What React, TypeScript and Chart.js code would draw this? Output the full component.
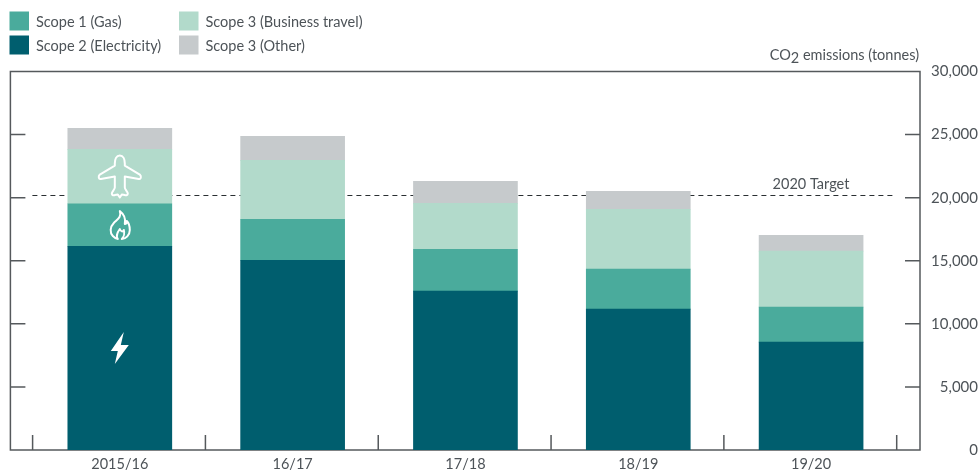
import React, { useEffect, useRef } from "react";
import { Chart, registerables } from "chart.js";

Chart.register(...registerables);

const categories = ["2015/16", "16/17", "17/18", "18/19", "19/20"];
const electricity = [16150, 15040, 12590, 11160, 8550];
const gas = [3370, 3250, 3320, 3170, 2770];
const businessTravel = [4310, 4670, 3650, 4750, 4440];
const other = [1670, 1900, 1740, 1420, 1260];
const targetValue = 20150;
const yTicks = [0, 5000, 10000, 15000, 20000, 25000, 30000];

const FONT = "Lato";
const TEXT = "#4d5358";
const FRAME = "#55595c";

const COLORS = {
  gas: "#4aab9c",
  electricity: "#005e6e",
  travel: "#b2dacb",
  other: "#c6cacc",
};

const legendColumns = [
  [
    { label: "Scope 1 (Gas)", color: COLORS.gas },
    { label: "Scope 2 (Electricity)", color: COLORS.electricity },
  ],
  [
    { label: "Scope 3 (Business travel)", color: COLORS.travel },
    { label: "Scope 3 (Other)", color: COLORS.other },
  ],
];

// Outline glyphs, centred on the origin, placed in the middle of a stack segment.
const PLANE =
  "M0 -21 C-3.5 -21 -5 -17 -5 -13 L-5 -11 L-20 -2 C-22 0 -21 3 -19 2.5 L-5 0 L-5 11 C-5 13 -8 15 -8 17 C-8 19 -6 19 -5 18.5 L-2 18 L0 21 L2 18 L5 18.5 C6 19 8 19 8 17 C8 15 5 13 5 11 L5 0 L19 2.5 C21 3 22 0 20 -2 L5 -11 L5 -13 C5 -17 3.5 -21 0 -21 Z";
const FLAME =
  "M0 -14 C2 -8 -2 -6 -6 -2 C-10 2 -10 8 -7 11 C-5 13 -3 14 -2 14 C-4 11 -3 8 0 4 C1 7 3 7 4 5 C5 8 4 12 2 14 C6 14 10 10 10 5 C10 1 9 -2 7 -4 C7 -2 6 -1 5 -1 C6 -6 4 -11 0 -14 Z";
const BOLT = "M4 -16 L-9 3 L-2 3 L-5 16 L9 -3 L1 -3 Z";

const framePlugin = {
  id: "frame",
  beforeDatasetsDraw(chart: any) {
    const { ctx, scales } = chart;
    const { x, y } = scales;
    const frameLeft = x.left - 23;
    const frameRight = x.right + 22.5;
    const bottom = y.bottom;
    const top = y.top;
    const band = (x.right - x.left) / categories.length;

    ctx.save();
    ctx.strokeStyle = FRAME;
    ctx.lineWidth = 1.5;
    ctx.strokeRect(frameLeft, top, frameRight - frameLeft, bottom - top);

    // Inward tick marks on both sides and between the categories
    ctx.beginPath();
    yTicks.slice(1, -1).forEach((v) => {
      const py = y.getPixelForValue(v);
      ctx.moveTo(frameLeft, py);
      ctx.lineTo(frameLeft + 15, py);
      ctx.moveTo(frameRight - 15, py);
      ctx.lineTo(frameRight, py);
    });
    for (let i = 0; i <= categories.length; i++) {
      const px = x.left + i * band - 0.8;
      ctx.moveTo(px, bottom);
      ctx.lineTo(px, bottom - 15);
    }
    ctx.stroke();

    // Target line, running behind the columns and snapped to the pixel grid
    const ty = Math.floor(y.getPixelForValue(targetValue)) + 0.5;
    ctx.strokeStyle = "#2a2f32";
    ctx.lineWidth = 1;
    ctx.setLineDash([5, 4]);
    ctx.beginPath();
    ctx.moveTo(x.left - 1, ty);
    ctx.lineTo(x.right - 2, ty);
    ctx.stroke();
    ctx.setLineDash([]);
    ctx.restore();
  },
  afterDatasetsDraw(chart: any) {
    const { ctx, scales } = chart;
    const { x, y } = scales;

    ctx.save();
    ctx.fillStyle = TEXT;
    ctx.textBaseline = "middle";
    ctx.font = `14.5px ${FONT}`;

    ctx.textAlign = "center";
    ctx.fillText("2020 Target", 811, y.getPixelForValue(targetValue) - 11);

    // Unit caption above the right axis, with a lowered 2 in CO2
    const tail = " emissions (tonnes)";
    const tailW = ctx.measureText(tail).width;
    ctx.textAlign = "right";
    ctx.fillText(tail, 919, 55);
    const subW = ctx.measureText("2").width;
    ctx.fillText("2", 919 - tailW, 58);
    ctx.fillText("CO", 919 - tailW - subW, 55);

    // Legend, two columns of two rows
    const colX = [9.5, 179];
    const rowY = [11.5, 35.5];
    legendColumns.forEach((col, c) =>
      col.forEach((item, r) => {
        ctx.fillStyle = item.color;
        ctx.fillRect(colX[c], rowY[r], 19.5, 19);
        ctx.fillStyle = TEXT;
        ctx.textAlign = "left";
        ctx.fillText(item.label, colX[c] + 26.5, rowY[r] + 11);
      }),
    );

    // Source glyphs in the first column's segments
    const cx = x.getPixelForValue(0);
    let base = 0;
    const stacks = [electricity[0], gas[0], businessTravel[0]];
    const glyphs = [BOLT, FLAME, PLANE];
    stacks.forEach((seg, i) => {
      const cy = y.getPixelForValue(base + seg / 2);
      base += seg;
      ctx.save();
      ctx.translate(cx, cy);
      const p = new Path2D(glyphs[i]);
      if (i === 0) {
        ctx.fillStyle = "#ffffff";
        ctx.fill(p);
      } else {
        ctx.strokeStyle = "#ffffff";
        ctx.lineWidth = 2;
        ctx.lineJoin = "round";
        ctx.stroke(p);
      }
      ctx.restore();
    });
    ctx.restore();
  },
};

export default function App() {
  const ref = useRef<HTMLCanvasElement>(null);

  useEffect(() => {
    if (!ref.current) return;
    const chart = new Chart(ref.current, {
      type: "bar",
      data: {
        labels: categories,
        datasets: [
          { label: "Scope 2 (Electricity)", data: electricity, backgroundColor: COLORS.electricity },
          { label: "Scope 1 (Gas)", data: gas, backgroundColor: COLORS.gas },
          { label: "Scope 3 (Business travel)", data: businessTravel, backgroundColor: COLORS.travel },
          { label: "Scope 3 (Other)", data: other, backgroundColor: COLORS.other },
        ],
      },
      options: {
        responsive: false,
        animation: false,
        layout: { padding: { left: 33.4, top: 71.5, right: 2, bottom: 0 } },
        plugins: { legend: { display: false }, tooltip: { enabled: false } },
        scales: {
          x: {
            stacked: true,
            grid: { display: false, drawTicks: false },
            border: { display: false },
            ticks: {
              color: TEXT,
              font: { family: FONT, size: 14.5 },
              padding: 6,
              maxRotation: 0,
            },
            afterFit(scale: any) {
              scale.height = 23;
            },
          },
          y: {
            stacked: true,
            position: "right",
            min: 0,
            max: 30000,
            grid: { display: false, drawTicks: false },
            border: { display: false },
            afterBuildTicks(scale: any) {
              scale.ticks = yTicks.map((value) => ({ value }));
            },
            ticks: {
              color: TEXT,
              font: { family: FONT, size: 15 },
              crossAlign: "far",
              padding: 0,
              callback: (v: any) => Number(v).toLocaleString("en-US"),
            },
            afterFit(scale: any) {
              scale.width = 80.5;
            },
          },
        },
        datasets: { bar: { barThickness: 104 } },
      } as any,
      plugins: [framePlugin],
    });
    return () => chart.destroy();
  }, []);

  return (
    <canvas
      ref={ref}
      width={980}
      height={473}
      style={{ position: "fixed", left: 0, top: 0, display: "block" }}
    />
  );
}
